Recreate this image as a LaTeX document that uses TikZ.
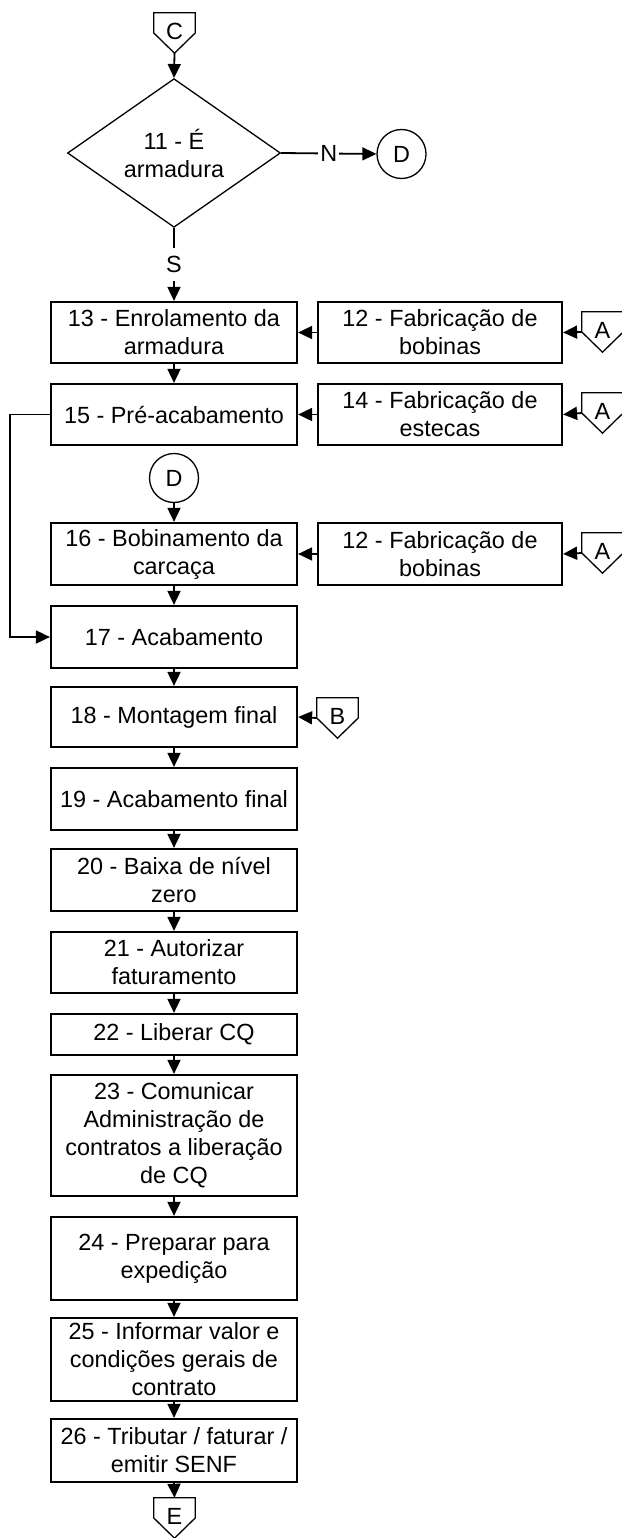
\documentclass[tikz,border=0pt]{standalone}
\usepackage{fontspec}
\setmainfont{Liberation Sans}
\usetikzlibrary{shapes.geometric,arrows.meta}

\begin{document}
\begin{tikzpicture}[x=1pt,y=-1pt,
    every node/.style={font=\fontsize{23.4}{28}\selectfont},
    box/.style={draw,line width=2.2pt,minimum width=246pt,inner sep=0pt,align=center},
    sidebox/.style={box,minimum width=244pt},
    decision/.style={draw,diamond,line width=1.3pt,minimum width=213pt,minimum height=132pt,inner sep=0pt,align=center},
    connector/.style={draw,circle,line width=1.3pt,minimum size=49pt,inner sep=0pt},
    offpage/.style={rectangle,minimum width=41pt,minimum height=40pt,inner sep=0pt},
    pent/.style={line width=1.3pt,line join=miter},
    flow/.style={line width=1.8pt,-{Triangle[length=14pt,width=13pt]}}]
\useasboundingbox (0,0) rectangle (621,1538);

% Decision
\node[offpage] (cC) at (174.5,33) {\raisebox{4pt}{C}};
\node[decision] (d11) at (174,153) {11 - É\\armadura};
\node[connector] (dOut) at (401.5,154) {D};

% Armature branch
\node[box,minimum height=61pt] (p13) at (174,332.5) {13 - Enrolamento da\\armadura};
\node[sidebox,minimum height=61pt] (f12a) at (440,332.5) {12 - Fabricação de\\bobinas};
\node[offpage] (cA1) at (602.5,332) {\raisebox{4pt}{A}};
\node[box,minimum height=61pt] (p15) at (174,414.5) {15 - Pré-acabamento};
\node[sidebox,minimum height=61pt] (f14) at (440,414.5) {14 - Fabricação de\\estecas};
\node[offpage] (cA2) at (602.5,413) {\raisebox{4pt}{A}};

% Frame branch
\node[connector] (dIn) at (174,478) {D};
\node[box,minimum height=62pt] (p16) at (174,554) {16 - Bobinamento da\\carcaça};
\node[sidebox,minimum height=62pt] (f12b) at (440,554) {12 - Fabricação de\\bobinas};
\node[offpage] (cA3) at (602.5,553) {\raisebox{4pt}{A}};

% Main sequence
\node[box,minimum height=62pt] (p17) at (174,637) {17 - Acabamento};
\node[box,minimum height=60pt] (p18) at (174,717) {18 - Montagem final};
\node[offpage] (cB) at (337.5,718) {\raisebox{4pt}{B}};
\node[box,minimum height=62pt] (p19) at (174,799) {19 - Acabamento final};
\node[box,minimum height=62pt] (p20) at (174,880) {20 - Baixa de nível\\zero};
\node[box,minimum height=61pt] (p21) at (174,962.5) {21 - Autorizar\\faturamento};
\node[box,minimum height=41pt] (p22) at (174,1034.5) {22 - Liberar CQ};
\node[box,minimum height=121pt] (p23) at (174,1135.5) {23 - Comunicar\\Administração de\\contratos a liberação\\de CQ};
\node[box,minimum height=83pt] (p24) at (174,1258.5) {24 - Preparar para\\expedição};
\node[box,minimum height=83pt] (p25) at (174,1359.5) {25 - Informar valor e\\condições gerais de\\contrato};
\node[box,minimum height=63pt] (p26) at (174,1450.5) {26 - Tributar / faturar /\\emitir SENF};
\node[offpage] (cE) at (174.5,1518) {\raisebox{4pt}{E}};

% Off-page shapes
\foreach \n in {cC,cA1,cA2,cA3,cB,cE}
  \draw[pent] (\n.north west) -- (\n.north east) -- (\n.east) -- (\n.south) -- (\n.west) -- cycle;

% Connectors
\draw[flow] (cC.south) -- (d11.north);
\draw[flow] (d11.east) -- node[fill=white,inner sep=2pt] {N} (dOut.west);
\draw[flow] (d11.south) -- node[fill=white,inner sep=8pt] {S} (p13.north);
\draw[flow] (f12a.west) -- (p13.east);
\draw[flow] (cA1.west) -- (f12a.east);
\draw[flow] (f14.west) -- (p15.east);
\draw[flow] (cA2.west) -- (f14.east);
\draw[flow] (dIn.south) -- (p16.north);
\draw[flow] (f12b.west) -- (p16.east);
\draw[flow] (cA3.west) -- (f12b.east);
\draw[flow] (cB.west) -- (p18.east);
\draw[flow] (p15.west) -- ++(-40,0) |- (p17.west);
\foreach \a/\b in {p13/p15,p16/p17,p17/p18,p18/p19,p19/p20,p20/p21,p21/p22,p22/p23,p23/p24,p24/p25,p25/p26,p26/cE}
  \draw[flow] (\a.south) -- (\b.north);
\end{tikzpicture}
\end{document}
